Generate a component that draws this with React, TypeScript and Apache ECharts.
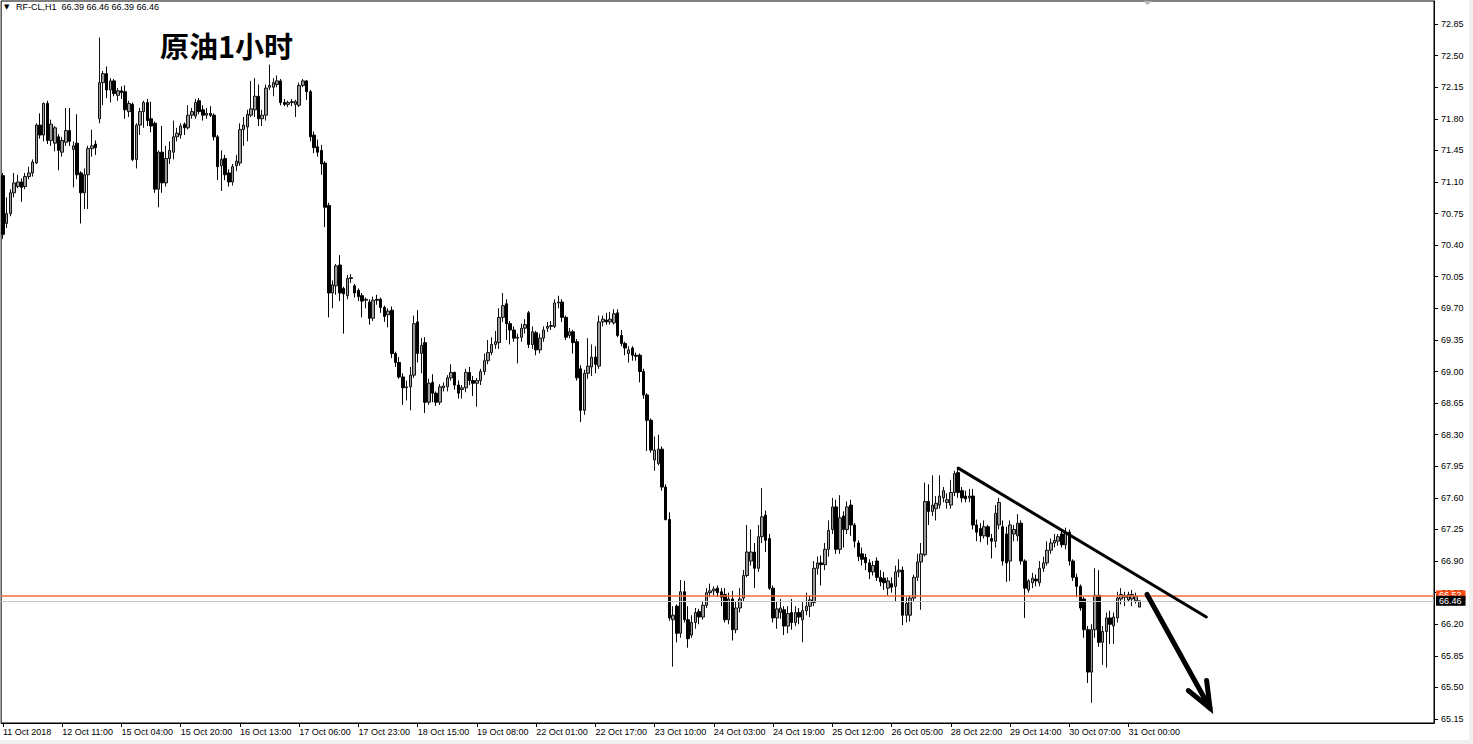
import React, { useEffect, useRef } from "react";
import * as echarts from "echarts";

// OHLC per hourly bar: [open, high, low, close]
const segA: number[][] = [
  [71.17, 71.2, 70.47, 70.52], [70.64, 70.93, 70.59, 70.75], [70.75, 71.02, 70.72, 70.98], [70.98, 71.2, 70.93, 71.09],
  [71.05, 71.18, 71.03, 71.1], [71.1, 71.14, 70.88, 71.04], [71.05, 71.2, 71.02, 71.16], [71.16, 71.27, 71.13, 71.2],
  [71.2, 71.35, 71.16, 71.32], [71.31, 71.75, 71.3, 71.73], [71.73, 71.86, 71.58, 71.62], [71.62, 71.98, 71.55, 71.97],
  [71.97, 72.0, 71.52, 71.56], [71.56, 71.79, 71.5, 71.74], [71.53, 71.72, 71.44, 71.7], [71.6, 71.63, 71.23, 71.45],
  [71.43, 71.6, 71.38, 71.56], [71.54, 71.92, 71.5, 71.67], [71.67, 71.92, 71.5, 71.55], [71.46, 71.55, 71.04, 71.5],
  [71.53, 71.85, 71.13, 71.18], [71.2, 71.22, 70.64, 70.98], [70.98, 71.25, 70.8, 71.18], [71.18, 71.5, 70.8, 71.47],
  [71.47, 71.68, 71.38, 71.5], [71.52, 71.56, 71.4, 71.48], [71.8, 72.7, 71.75, 72.2], [72.2, 72.33, 71.95, 72.3],
  [72.3, 72.38, 72.03, 72.12], [72.12, 72.25, 71.98, 72.22], [72.22, 72.24, 72.05, 72.08], [72.06, 72.14, 72.0, 72.11],
  [72.11, 72.16, 72.02, 72.09], [72.1, 72.17, 71.8, 71.9], [71.88, 72.0, 71.82, 71.97], [71.96, 71.98, 71.33, 71.35],
  [71.35, 71.75, 71.25, 71.73], [71.73, 71.92, 71.62, 71.88], [71.88, 72.0, 71.7, 71.98], [71.98, 72.02, 71.72, 71.78],
  [71.8, 71.99, 71.65, 71.72], [71.75, 71.77, 70.98, 71.02], [71.02, 71.45, 70.82, 71.43], [71.43, 71.72, 70.98, 71.09],
  [71.09, 71.5, 71.05, 71.36], [71.36, 71.55, 71.3, 71.45], [71.43, 71.78, 71.35, 71.6], [71.6, 71.7, 71.55, 71.64],
  [71.62, 71.75, 71.58, 71.72], [71.74, 71.76, 71.62, 71.7], [71.7, 71.95, 71.68, 71.84], [71.84, 71.92, 71.8, 71.88],
  [71.83, 72.02, 71.8, 71.98], [72.0, 72.03, 71.85, 71.88], [71.9, 71.95, 71.78, 71.84], [71.84, 71.92, 71.8, 71.86],
  [71.86, 71.94, 71.82, 71.84], [71.84, 71.86, 71.56, 71.6], [71.6, 71.62, 71.12, 71.27], [71.28, 71.45, 71.0, 71.35],
  [71.36, 71.4, 71.12, 71.18], [71.2, 71.24, 71.05, 71.1], [71.1, 71.3, 71.06, 71.27], [71.28, 71.4, 71.22, 71.33],
  [71.31, 71.75, 71.28, 71.68], [71.68, 71.82, 71.5, 71.73], [71.71, 71.9, 71.55, 71.85], [71.84, 72.22, 71.82, 71.91],
  [71.9, 72.25, 71.82, 72.05], [72.05, 72.18, 71.72, 71.8], [71.8, 71.9, 71.72, 71.84], [71.84, 72.18, 71.78, 72.14],
  [72.15, 72.4, 72.12, 72.17], [72.15, 72.25, 72.05, 72.2], [72.18, 72.28, 72.15, 72.22], [72.22, 72.24, 71.95, 71.98],
  [71.98, 72.02, 71.94, 71.96], [71.96, 72.0, 71.93, 71.98],
];

const segB: number[][] = [
  [71.98, 72.02, 71.94, 71.99], [71.96, 72.01, 71.82, 71.99], [71.95, 72.2, 71.93, 72.17], [72.17, 72.24, 72.15, 72.22],
  [72.22, 72.23, 72.01, 72.1], [72.1, 72.12, 71.55, 71.6], [71.62, 71.66, 71.42, 71.48], [71.49, 71.57, 71.38, 71.43],
  [71.45, 71.51, 71.18, 71.3], [71.31, 71.33, 70.6, 70.82], [70.84, 70.87, 69.6, 69.87], [69.87, 70.01, 69.7, 69.96],
  [69.95, 70.19, 69.85, 70.17], [70.18, 70.29, 69.78, 69.87], [69.92, 69.94, 69.42, 69.86], [69.84, 70.07, 69.8, 70.03],
  [70.03, 70.08, 69.98, 70.04], [69.95, 69.97, 69.82, 69.87], [69.9, 69.92, 69.78, 69.83], [69.84, 69.87, 69.6, 69.78],
  [69.79, 69.82, 69.7, 69.8], [69.77, 69.8, 69.52, 69.59], [69.59, 69.83, 69.56, 69.79], [69.8, 69.85, 69.74, 69.79],
  [69.8, 69.82, 69.65, 69.71], [69.71, 69.73, 69.55, 69.61], [69.63, 69.7, 69.49, 69.67], [69.68, 69.72, 69.15, 69.2],
  [69.2, 69.22, 69.05, 69.1], [69.1, 69.16, 68.92, 68.94], [68.94, 68.98, 68.63, 68.82], [68.82, 68.9, 68.68, 68.83],
  [68.83, 69.05, 68.57, 68.96], [68.96, 69.62, 68.93, 69.53], [69.55, 69.68, 69.1, 69.2], [69.2, 69.37, 68.98, 69.29],
  [69.32, 69.38, 68.54, 68.66], [68.66, 68.92, 68.63, 68.87], [68.88, 68.97, 68.66, 68.76], [68.76, 68.78, 68.62, 68.66],
  [68.66, 68.86, 68.63, 68.83], [68.82, 68.88, 68.78, 68.84], [68.83, 68.96, 68.78, 68.93], [68.93, 69.08, 68.9, 68.99],
  [68.99, 69.0, 68.8, 68.85], [68.85, 68.9, 68.7, 68.76], [68.8, 68.85, 68.7, 68.82], [68.82, 69.03, 68.77, 68.99],
  [68.99, 69.05, 68.85, 68.9], [68.9, 68.95, 68.73, 68.87], [68.87, 68.93, 68.61, 68.9], [68.9, 69.03, 68.85, 69.0],
  [69.0, 69.2, 68.96, 69.12], [69.12, 69.35, 69.08, 69.21], [69.21, 69.38, 69.18, 69.3], [69.3, 69.45, 69.25, 69.33],
  [69.32, 69.7, 69.25, 69.6], [69.6, 69.87, 69.55, 69.73], [69.75, 69.8, 69.35, 69.53], [69.53, 69.56, 69.3, 69.46],
  [69.46, 69.5, 69.33, 69.37], [69.37, 69.42, 69.09, 69.38], [69.38, 69.53, 69.33, 69.48], [69.48, 69.58, 69.42, 69.52],
  [69.65, 69.67, 69.26, 69.3], [69.3, 69.5, 69.25, 69.44], [69.43, 69.45, 69.18, 69.24], [69.24, 69.42, 69.2, 69.37],
  [69.37, 69.5, 69.33, 69.46], [69.48, 69.55, 69.44, 69.5], [69.5, 69.56, 69.46, 69.51], [69.5, 69.8, 69.48, 69.76],
  [69.76, 69.84, 69.7, 69.77], [69.77, 69.8, 69.55, 69.6], [69.6, 69.62, 69.35, 69.38], [69.4, 69.48, 69.37, 69.44],
  [69.44, 69.46, 69.2, 69.32],
];

const segC: number[][] = [
  [69.33, 69.36, 68.9, 68.93], [69.03, 69.07, 68.44, 68.57], [68.57, 69.02, 68.52, 68.98], [68.98, 69.37, 68.92, 69.06],
  [69.05, 69.3, 68.95, 69.16], [69.16, 69.28, 68.98, 69.08], [69.06, 69.62, 69.03, 69.55], [69.55, 69.62, 69.5, 69.58],
  [69.57, 69.65, 69.52, 69.55], [69.55, 69.66, 69.52, 69.58], [69.54, 69.69, 69.52, 69.64], [69.65, 69.69, 69.38, 69.4],
  [69.4, 69.46, 69.28, 69.31], [69.31, 69.33, 69.18, 69.26], [69.2, 69.28, 69.1, 69.24], [69.26, 69.28, 69.12, 69.18],
  [69.18, 69.21, 69.12, 69.17], [69.18, 69.2, 68.88, 69.0], [69.0, 69.03, 68.7, 68.74], [68.74, 68.76, 68.12, 68.46],
  [68.46, 68.48, 68.1, 68.13], [68.02, 68.28, 67.9, 68.13], [67.98, 68.3, 67.96, 68.14], [68.14, 68.17, 67.68, 67.72],
  [67.72, 67.75, 67.35, 67.36], [67.36, 67.44, 66.24, 66.27], [66.25, 66.4, 65.73, 66.3], [66.4, 66.42, 66.0, 66.1],
  [66.1, 66.69, 66.05, 66.56], [66.56, 66.68, 66.22, 66.25], [66.25, 66.4, 65.94, 66.04], [66.08, 66.3, 66.05, 66.22],
  [66.22, 66.38, 66.15, 66.33], [66.34, 66.37, 66.2, 66.28], [66.28, 66.45, 66.25, 66.41], [66.41, 66.6, 66.38, 66.55],
  [66.55, 66.65, 66.5, 66.57], [66.57, 66.62, 66.52, 66.59], [66.6, 66.63, 66.5, 66.55], [66.56, 66.6, 66.4, 66.5],
  [66.53, 66.6, 66.22, 66.25], [66.25, 66.55, 66.2, 66.48], [66.48, 66.57, 66.02, 66.14], [66.14, 66.45, 66.1, 66.38],
  [66.38, 66.6, 66.33, 66.48], [66.49, 66.8, 66.45, 66.74], [66.74, 67.3, 66.72, 67.0], [66.9, 67.25, 66.85, 67.0],
  [67.0, 67.1, 66.6, 66.82], [66.82, 67.3, 66.78, 67.17], [67.17, 67.71, 67.1, 67.39], [67.41, 67.46, 67.0, 67.13],
  [67.15, 67.2, 66.58, 66.6], [66.6, 66.63, 66.22, 66.27], [66.27, 66.45, 66.15, 66.37], [66.33, 66.48, 66.26, 66.38],
  [66.36, 66.4, 66.08, 66.18], [66.18, 66.4, 66.1, 66.32], [66.33, 66.48, 66.14, 66.22], [66.22, 66.4, 66.18, 66.33],
  [66.33, 66.38, 66.2, 66.28], [66.25, 66.45, 66.0, 66.35], [66.35, 66.55, 66.3, 66.4], [66.4, 66.52, 66.28, 66.47],
  [66.44, 66.9, 66.4, 66.82], [66.82, 66.95, 66.75, 66.88], [66.88, 66.96, 66.63, 66.86], [66.86, 67.1, 66.8, 67.03],
  [67.03, 67.35, 66.95, 67.24], [67.25, 67.6, 67.2, 67.5], [67.5, 67.58, 66.98, 67.03], [67.03, 67.63, 66.98, 67.38],
  [67.4, 67.45, 67.05, 67.25], [67.25, 67.56, 67.2, 67.5], [67.52, 67.58, 67.18, 67.3], [67.3, 67.32, 67.05, 67.12],
];

const segD: number[][] = [
  [67.1, 67.13, 66.9, 66.95], [66.98, 67.05, 66.85, 66.92], [66.94, 66.98, 66.8, 66.88], [66.88, 66.92, 66.7, 66.78],
  [66.78, 66.9, 66.74, 66.85], [66.9, 66.94, 66.68, 66.72], [66.72, 66.8, 66.62, 66.67], [66.71, 66.78, 66.58, 66.66],
  [66.6, 66.72, 66.52, 66.68], [66.65, 66.72, 66.55, 66.61], [66.62, 66.85, 66.45, 66.78], [66.78, 66.92, 66.72, 66.8],
  [66.8, 66.84, 66.19, 66.3], [66.3, 66.5, 66.22, 66.43], [66.3, 66.52, 66.23, 66.49], [66.49, 66.75, 66.45, 66.72],
  [66.72, 66.98, 66.68, 66.89], [66.89, 67.1, 66.36, 66.98], [66.97, 67.77, 66.95, 67.56], [67.56, 67.75, 67.3, 67.45],
  [67.45, 67.85, 67.4, 67.52], [67.48, 67.62, 67.35, 67.54], [67.52, 67.85, 67.48, 67.62], [67.6, 67.72, 67.55, 67.68],
  [67.55, 67.65, 67.48, 67.58], [67.52, 67.8, 67.48, 67.66], [67.66, 67.9, 67.62, 67.87], [67.88, 67.93, 67.6, 67.66],
  [67.68, 67.72, 67.55, 67.6], [67.62, 67.68, 67.55, 67.59], [67.6, 67.7, 67.55, 67.62], [67.62, 67.7, 67.25, 67.3],
  [67.3, 67.36, 67.12, 67.22], [67.26, 67.32, 67.11, 67.18], [67.18, 67.35, 67.15, 67.28], [67.28, 67.3, 67.08, 67.17],
  [67.15, 67.2, 66.93, 67.12], [67.12, 67.52, 67.05, 67.43], [67.3, 67.6, 67.25, 67.55], [67.28, 67.35, 66.85, 66.9],
  [67.2, 67.28, 66.67, 66.88], [66.9, 67.35, 66.68, 67.3], [67.2, 67.3, 67.12, 67.25], [67.18, 67.42, 67.12, 67.32],
  [67.32, 67.35, 66.86, 66.9], [66.9, 66.92, 66.27, 66.6], [66.58, 66.7, 66.55, 66.68], [66.66, 66.77, 66.6, 66.71],
  [66.7, 66.75, 66.62, 66.68], [66.66, 66.9, 66.62, 66.82], [66.82, 66.95, 66.78, 66.88], [66.88, 67.12, 66.85, 67.02],
  [67.02, 67.15, 66.98, 67.1], [67.1, 67.2, 67.05, 67.13], [67.12, 67.2, 67.07, 67.17], [67.2, 67.25, 67.05, 67.08],
  [67.08, 67.27, 67.03, 67.21], [67.22, 67.25, 66.85, 66.9], [66.9, 66.92, 66.68, 66.72], [66.72, 66.76, 66.5, 66.62],
  [66.62, 66.64, 66.35, 66.38], [66.48, 66.5, 66.05, 66.14], [66.14, 66.18, 65.55, 65.67], [65.67, 66.2, 65.33, 66.14],
  [66.14, 66.82, 66.05, 66.52], [66.52, 66.8, 65.95, 66.0], [66.0, 66.18, 65.75, 66.12], [66.12, 66.33, 65.72, 66.27],
  [66.27, 66.35, 65.98, 66.2], [66.18, 66.33, 65.98, 66.28], [66.27, 66.56, 66.22, 66.49], [66.48, 66.6, 66.42, 66.53],
  [66.5, 66.56, 66.4, 66.52], [66.47, 66.56, 66.45, 66.53], [66.48, 66.58, 66.4, 66.53], [66.46, 66.55, 66.43, 66.51],
  [66.39, 66.46, 66.39, 66.46],
];

const xTickBars = [0, 16, 32, 48, 64, 80, 96, 112, 128, 144, 160, 176, 192, 208, 224, 240, 256, 272, 288, 304];
const xTickLabels = [
  "11 Oct 2018", "12 Oct 11:00", "15 Oct 04:00", "15 Oct 20:00", "16 Oct 13:00", "17 Oct 06:00", "17 Oct 23:00",
  "18 Oct 15:00", "19 Oct 08:00", "22 Oct 01:00", "22 Oct 17:00", "23 Oct 10:00", "24 Oct 03:00", "24 Oct 19:00",
  "25 Oct 12:00", "26 Oct 05:00", "28 Oct 22:00", "29 Oct 14:00", "30 Oct 07:00", "31 Oct 00:00",
];
const yTickValues = [65.15, 65.5, 65.85, 66.2, 66.55, 66.9, 67.25, 67.6, 67.95, 68.3, 68.65, 69.0, 69.35, 69.7, 70.05, 70.4, 70.75, 71.1, 71.45, 71.8, 72.15, 72.5, 72.85];
const askPrice = 66.52;
const bidPrice = 66.46;
const headerText = "RF-CL,H1  66.39 66.46 66.39 66.46";
const titleText = "原油1小时";
// [barStart, priceStart, barEnd, priceEnd, lineWidth, kind(0=line,1=arrow)]
const annotations = [
  [258, 67.93, 325, 66.28, 3, 0],
  [309, 66.53, 326, 65.27, 5, 1],
];
const slotCount = 387;

export default function App() {
  const ref = useRef<HTMLDivElement>(null);
  useEffect(() => {
    if (!ref.current) return;
    const chart = echarts.init(ref.current, null, { renderer: "svg" });
    const bars = [...segA, ...segB, ...segC, ...segD];
    const candleData = bars.map((b) => [b[0], b[3], b[2], b[1]]);
    const categories = Array.from({ length: slotCount }, (_, i) => String(i));
    const labelMap = new Map<number, string>();
    xTickBars.forEach((b, i) => labelMap.set(b, xTickLabels[i]));
    const font = "Liberation Sans";

    chart.setOption({
      animation: false,
      backgroundColor: "#ffffff",
      grid: { left: 0, right: 39, top: 1, bottom: 21, show: true, borderColor: "#000", borderWidth: 1, backgroundColor: "#fff" },
      xAxis: {
        type: "category",
        data: categories,
        boundaryGap: true,
        axisLine: { show: true, lineStyle: { color: "#000", width: 1 } },
        axisTick: { show: true, alignWithLabel: true, length: 4, interval: (i: number) => labelMap.has(i), lineStyle: { color: "#000" } },
        axisLabel: {
          interval: (i: number) => labelMap.has(i),
          formatter: (v: string) => labelMap.get(Number(v)) ?? "",
          align: "left",
          fontSize: 9,
          fontFamily: font,
          color: "#000",
          margin: 4,
        },
        splitLine: { show: false },
      },
      yAxis: {
        type: "value",
        position: "right",
        min: 65.106,
        max: 73.105,
        axisLine: { show: true, lineStyle: { color: "#000", width: 1 } },
        axisTick: { show: true, length: 4, customValues: yTickValues, lineStyle: { color: "#000" } },
        axisLabel: { customValues: yTickValues, formatter: (v: number) => v.toFixed(2), fontSize: 9, fontFamily: font, color: "#000", margin: 7 },
        splitLine: { show: false },
      },
      series: [
        {
          type: "candlestick",
          data: candleData,
          barWidth: 3,
          itemStyle: { color: "#9a9a9a", color0: "#000", borderColor: "#111", borderColor0: "#000", borderWidth: 1 },
          markLine: {
            symbol: ["none", "none"],
            silent: true,
            animation: false,
            data: [
              {
                yAxis: askPrice,
                lineStyle: { color: "#f26b3a", width: 1.5, type: "solid" },
                label: { show: true, position: "end", distance: 2, formatter: askPrice.toFixed(2), backgroundColor: "#ff4a12", color: "#fff", fontSize: 9, fontFamily: font, padding: [1, 4, 0, 3] },
              },
              {
                yAxis: bidPrice,
                lineStyle: { color: "#c4c4c4", width: 1, type: "solid" },
                label: { show: true, position: "end", distance: 2, formatter: bidPrice.toFixed(2), backgroundColor: "#000", color: "#fff", fontSize: 9, fontFamily: font, padding: [1, 4, 0, 3] },
              },
            ],
          },
        },
        {
          type: "custom",
          data: annotations,
          silent: true,
          z: 5,
          renderItem: (params: any, api: any) => {
            const p0 = api.coord([api.value(0), api.value(1)]);
            const p1 = api.coord([api.value(2), api.value(3)]);
            const w = api.value(4);
            const shaft = { type: "line", shape: { x1: p0[0], y1: p0[1], x2: p1[0], y2: p1[1] }, style: { stroke: "#000", lineWidth: w, lineCap: "round" } };
            if (api.value(5) === 0) return shaft;
            const dx = p0[0] - p1[0];
            const dy = p0[1] - p1[1];
            const len = Math.hypot(dx, dy);
            const ux = dx / len;
            const uy = dy / len;
            const arm = (deg: number) => {
              const a = (deg * Math.PI) / 180;
              return [p1[0] + 28 * (ux * Math.cos(a) - uy * Math.sin(a)), p1[1] + 28 * (ux * Math.sin(a) + uy * Math.cos(a))];
            };
            return {
              type: "group",
              children: [
                shaft,
                { type: "polyline", shape: { points: [arm(22), [p1[0], p1[1]], arm(-22)] }, style: { stroke: "#000", lineWidth: w, fill: null, lineJoin: "miter", lineCap: "round" } },
              ],
            };
          },
        },
      ],
      graphic: [
        { type: "rect", left: 0, top: 740, shape: { width: 1473, height: 4 }, style: { fill: "#efefef" }, silent: true },
        { type: "rect", left: 1469, top: 0, shape: { width: 4, height: 744 }, style: { fill: "#efefef" }, silent: true },
        { type: "polygon", shape: { points: [[1143, 1], [1152, 1], [1147.5, 5]] }, style: { fill: "#b8b8b8" }, silent: true },
        { type: "text", style: { text: "▼", x: 4, y: 7, fontSize: 7, fill: "#000", verticalAlign: "middle", fontFamily: "DejaVu Sans" }, silent: true },
        { type: "text", style: { text: headerText, x: 16, y: 7, fontSize: 9, fill: "#000", verticalAlign: "middle", fontFamily: font }, silent: true },
        { type: "text", style: { text: titleText, x: 160, y: 45, fill: "#000", verticalAlign: "middle", font: 'bold 29px "Noto Sans CJK SC"' }, silent: true },
      ],
    });
    return () => chart.dispose();
  }, []);
  return <div ref={ref} style={{ position: "absolute", left: 0, top: 0, width: 1473, height: 744, background: "#fff" }} />;
}
